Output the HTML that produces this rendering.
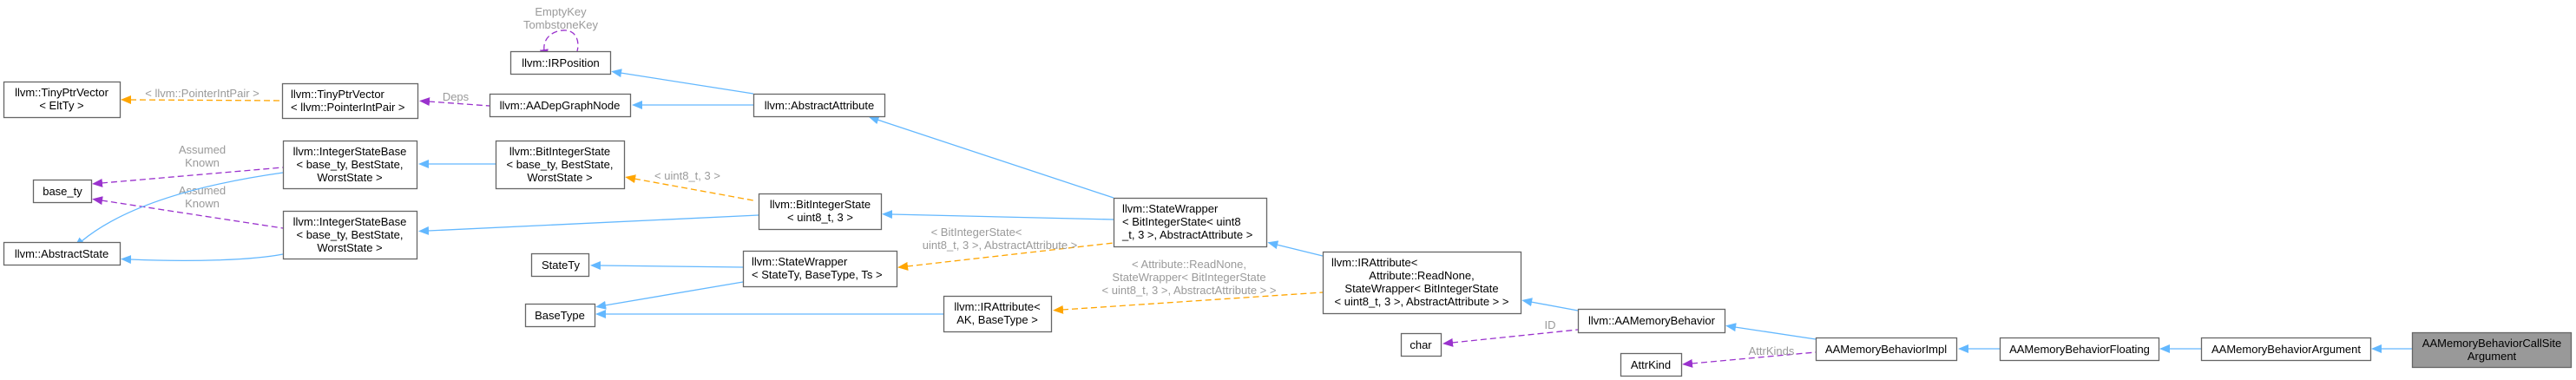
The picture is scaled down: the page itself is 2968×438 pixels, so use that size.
<!DOCTYPE html>
<html><head><meta charset="utf-8"><style>
html,body{margin:0;padding:0;background:#fff;}
svg{display:block;}
text{font-family:"Liberation Sans",Arial,sans-serif;font-size:13px;}
.n{fill:#fff;stroke:#666;stroke-width:1.3;}
.t{fill:#000;text-anchor:middle;}
.tl{fill:#000;text-anchor:start;}
.l{fill:#9a9a9a;text-anchor:middle;}
.b{stroke:#63b8ff;stroke-width:1.3;fill:none;}
.o{stroke:#ffa500;stroke-width:1.3;fill:none;stroke-dasharray:7,4;}
.p{stroke:#9a32cd;stroke-width:1.3;fill:none;stroke-dasharray:7,4;}
</style></head><body>
<svg width="2968" height="438" viewBox="0 0 2968 438" xmlns="http://www.w3.org/2000/svg">
<defs>
<marker id="mb" markerWidth="12" markerHeight="10" refX="11" refY="5" orient="auto" markerUnits="userSpaceOnUse"><path d="M0,0 L12,5 L0,10 z" fill="#63b8ff" transform="rotate(180 6 5)"/></marker>
<marker id="mo" markerWidth="12" markerHeight="10" refX="11" refY="5" orient="auto" markerUnits="userSpaceOnUse"><path d="M0,0 L12,5 L0,10 z" fill="#ffa500" transform="rotate(180 6 5)"/></marker>
<marker id="mp" markerWidth="12" markerHeight="10" refX="11" refY="5" orient="auto" markerUnits="userSpaceOnUse"><path d="M0,0 L12,5 L0,10 z" fill="#9a32cd" transform="rotate(180 6 5)"/></marker>
</defs>
<path class="o" d="M150,115 L325,116" marker-start="url(#mo)"/>
<text class="l" x="233" y="112">&lt; llvm::PointerIntPair &gt;</text>
<path class="p" d="M494,117 L564,122" marker-start="url(#mp)"/>
<text class="l" x="525" y="116">Deps</text>
<path class="b" d="M715,84 L868,108" marker-start="url(#mb)"/>
<path class="b" d="M739,121 L868,121" marker-start="url(#mb)"/>
<path class="b" d="M1011,138 L1283,228" marker-start="url(#mb)"/>
<path class="b" d="M493,189 L571,189" marker-start="url(#mb)"/>
<path class="o" d="M731,206 L868,231" marker-start="url(#mo)"/>
<text class="l" x="792" y="207">&lt; uint8_t, 3 &gt;</text>
<path class="b" d="M493,266 L874,248" marker-start="url(#mb)"/>
<path class="b" d="M1027,247 L1283,253" marker-start="url(#mb)"/>
<path class="p" d="M117,211 L326,193" marker-start="url(#mp)"/>
<text class="l" x="233" y="177">Assumed</text><text class="l" x="233" y="192">Known</text>
<path class="p" d="M117,231 L326,263" marker-start="url(#mp)"/>
<text class="l" x="233" y="224">Assumed</text><text class="l" x="233" y="239">Known</text>
<path class="b" d="M94,278 C140,240 220,214 326,199" marker-start="url(#mb)"/>
<path class="b" d="M150,299 C220,302 290,300 326,293" marker-start="url(#mb)"/>
<path class="b" d="M691,306 L856,308" marker-start="url(#mb)"/>
<path class="b" d="M697,352 L856,325" marker-start="url(#mb)"/>
<path class="b" d="M697,362 L1087,362" marker-start="url(#mb)"/>
<path class="o" d="M1045,307 L1283,280" marker-start="url(#mo)"/>
<text class="l" x="1125" y="272">&lt; BitIntegerState&lt;</text>
<text class="l" x="1152" y="287">uint8_t, 3 &gt;, AbstractAttribute &gt;</text>
<path class="b" d="M1471,282 L1524,295" marker-start="url(#mb)"/>
<path class="o" d="M1224,357 L1524,337" marker-start="url(#mo)"/>
<text class="l" x="1370" y="309">&lt; Attribute::ReadNone,</text>
<text class="l" x="1370" y="324">StateWrapper&lt; BitIntegerState</text>
<text class="l" x="1370" y="339">&lt; uint8_t, 3 &gt;, AbstractAttribute &gt; &gt;</text>
<path class="b" d="M1764,348 L1818,358" marker-start="url(#mb)"/>
<path class="p" d="M1673,395 L1818,380" marker-start="url(#mp)"/>
<text class="l" x="1786" y="379">ID</text>
<path class="b" d="M1999,377 L2092,391" marker-start="url(#mb)"/>
<path class="p" d="M1949,419 L2092,406" marker-start="url(#mp)"/>
<text class="l" x="2041" y="409">AttrKinds</text>
<path class="b" d="M2267,402 L2304,402" marker-start="url(#mb)"/>
<path class="b" d="M2499,402 L2536,402" marker-start="url(#mb)"/>
<path class="b" d="M2743,402 L2779,402" marker-start="url(#mb)"/>
<path class="p" d="M627,58 C625,42 640,34 652,35 C664,36 668,48 665,59" marker-start="url(#mp)"/>
<text class="l" x="646" y="18">EmptyKey</text><text class="l" x="646" y="33">TombstoneKey</text>
<rect class="n" x="4.5" y="94.5" width="134" height="41"/><text class="t" x="71" y="111">llvm::TinyPtrVector</text><text class="t" x="71" y="126">&lt; EltTy &gt;</text>
<rect class="n" x="325.5" y="96.5" width="156" height="40"/><text class="tl" x="335" y="113">llvm::TinyPtrVector</text><text class="tl" x="335" y="128">&lt; llvm::PointerIntPair &gt;</text>
<rect class="n" x="326.5" y="162.5" width="154" height="55"/><text class="t" x="403" y="179">llvm::IntegerStateBase</text><text class="t" x="403" y="194">&lt; base_ty, BestState,</text><text class="t" x="403" y="209">WorstState &gt;</text>
<rect class="n" x="38.5" y="207.5" width="67" height="26"/><text class="t" x="72" y="225">base_ty</text>
<rect class="n" x="326.5" y="243.5" width="154" height="55"/><text class="t" x="403" y="260">llvm::IntegerStateBase</text><text class="t" x="403" y="275">&lt; base_ty, BestState,</text><text class="t" x="403" y="290">WorstState &gt;</text>
<rect class="n" x="4.5" y="279.5" width="134" height="26"/><text class="t" x="71" y="297">llvm::AbstractState</text>
<rect class="n" x="564.5" y="108.5" width="162" height="26"/><text class="t" x="645" y="126">llvm::AADepGraphNode</text>
<rect class="n" x="588.5" y="59.5" width="115" height="26"/><text class="t" x="646" y="77">llvm::IRPosition</text>
<rect class="n" x="868.5" y="108.5" width="151" height="26"/><text class="t" x="944" y="126">llvm::AbstractAttribute</text>
<rect class="n" x="571.5" y="162.5" width="148" height="55"/><text class="t" x="645" y="179">llvm::BitIntegerState</text><text class="t" x="645" y="194">&lt; base_ty, BestState,</text><text class="t" x="645" y="209">WorstState &gt;</text>
<rect class="n" x="874.5" y="223.5" width="141" height="41"/><text class="t" x="945" y="240">llvm::BitIntegerState</text><text class="t" x="945" y="255">&lt; uint8_t, 3 &gt;</text>
<rect class="n" x="612.5" y="292.5" width="66" height="26"/><text class="t" x="646" y="310">StateTy</text>
<rect class="n" x="856.5" y="289.5" width="177" height="41"/><text class="tl" x="866" y="306">llvm::StateWrapper</text><text class="tl" x="866" y="321">&lt; StateTy, BaseType, Ts &gt;</text>
<rect class="n" x="605.5" y="350.5" width="80" height="26"/><text class="t" x="645" y="368">BaseType</text>
<rect class="n" x="1087.5" y="341.5" width="124" height="41"/><text class="t" x="1149" y="358">llvm::IRAttribute&lt;</text><text class="t" x="1149" y="373">AK, BaseType &gt;</text>
<rect class="n" x="1283.5" y="228.5" width="176" height="56"/><text class="tl" x="1293" y="245">llvm::StateWrapper</text><text class="tl" x="1293" y="260">&lt; BitIntegerState&lt; uint8</text><text class="tl" x="1293" y="275">_t, 3 &gt;, AbstractAttribute &gt;</text>
<rect class="n" x="1524.5" y="290.5" width="228" height="71"/><text class="tl" x="1534" y="307">llvm::IRAttribute&lt;</text><text class="t" x="1638" y="322">Attribute::ReadNone,</text><text class="t" x="1638" y="337">StateWrapper&lt; BitIntegerState</text><text class="t" x="1638" y="352">&lt; uint8_t, 3 &gt;, AbstractAttribute &gt; &gt;</text>
<rect class="n" x="1818.5" y="356.5" width="169" height="27"/><text class="t" x="1903" y="374">llvm::AAMemoryBehavior</text>
<rect class="n" x="1614.5" y="384.5" width="46" height="26"/><text class="t" x="1637" y="402">char</text>
<rect class="n" x="2092.5" y="389.5" width="162" height="26"/><text class="t" x="2173" y="407">AAMemoryBehaviorImpl</text>
<rect class="n" x="1867.5" y="407.5" width="70" height="26"/><text class="t" x="1902" y="425">AttrKind</text>
<rect class="n" x="2304.5" y="389.5" width="183" height="26"/><text class="t" x="2396" y="407">AAMemoryBehaviorFloating</text>
<rect class="n" x="2536.5" y="389.5" width="195" height="26"/><text class="t" x="2634" y="407">AAMemoryBehaviorArgument</text>
<rect x="2779.5" y="383.5" width="183" height="40" fill="#999" stroke="#666" stroke-width="1.3"/><text class="t" x="2871" y="400">AAMemoryBehaviorCallSite</text><text class="t" x="2871" y="415">Argument</text>
</svg>
</body></html>
